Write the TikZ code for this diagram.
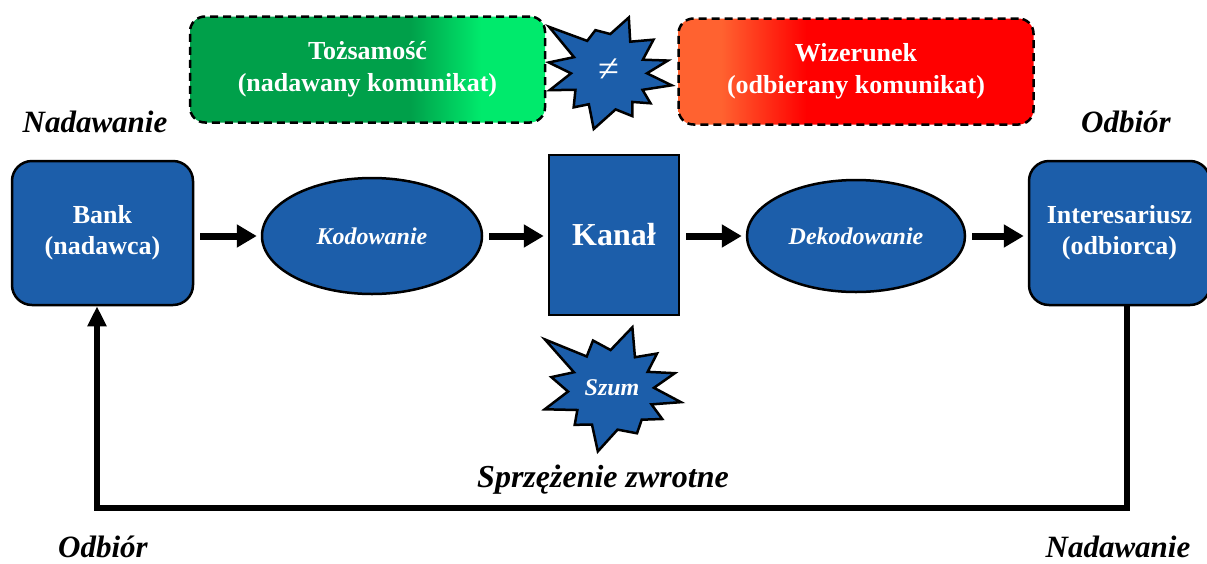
\documentclass[tikz,border=0pt]{standalone}
\usepackage{fontspec}
\setmainfont{Liberation Serif}
\usetikzlibrary{shapes.geometric,arrows.meta,calc}

\definecolor{boxblue}{RGB}{28,94,170}
\definecolor{gdark}{RGB}{0,160,74}
\definecolor{glight}{RGB}{0,234,108}
\definecolor{rorange}{RGB}{255,98,48}
\definecolor{rred}{RGB}{255,0,0}

% left-to-right fills of the two message boxes (box spans 25bp..75bp)
\pgfdeclarehorizontalshading{greenfill}{100bp}{color(0bp)=(gdark); color(25bp)=(gdark); color(56bp)=(gdark); color(66bp)=(glight); color(100bp)=(glight)}
\pgfdeclarehorizontalshading{redfill}{100bp}{color(0bp)=(rorange); color(31bp)=(rorange); color(43bp)=(rred); color(100bp)=(rred)}

\tikzset{
  bluebox/.style={draw=black, line width=2.5pt, fill=boxblue, rounded corners=20pt,
    text=white, align=center, inner sep=0pt,
    font=\fontsize{26}{31}\selectfont\bfseries,
    minimum width=181pt, minimum height=144pt},
  oval/.style={ellipse, draw=black, line width=2.5pt, fill=boxblue, text=white,
    inner sep=0pt, font=\fontsize{24}{28}\selectfont\bfseries\itshape},
  msgbox/.style={draw=black, dash pattern=on 8pt off 5pt, line width=2.5pt,
    rounded corners=15pt, text=white, align=center, inner sep=0pt,
    font=\fontsize{26}{32}\selectfont\bfseries,
    minimum width=355pt, minimum height=106pt},
  sidelabel/.style={inner sep=0pt, font=\fontsize{31}{34}\selectfont\bfseries\itshape},
  burst/.style={draw=black, line width=2.5pt, fill=boxblue, line join=miter},
  flow/.style={line width=7pt, -{Triangle[length=20pt,width=22pt]},
    shorten <=6pt, shorten >=4pt},
  feedback/.style={line width=6pt, -{Triangle[length=20pt,width=18pt]}},
}

\begin{document}
\begin{tikzpicture}[x=1pt,y=-1pt]
\useasboundingbox (0,0) rectangle (1207,563);

% message boxes
\node[msgbox, shading=greenfill] (tozs) at (367.5,69.5) {Tożsamość\\(nadawany komunikat)};
\node[msgbox, shading=redfill] (wiz) at (856,71.5) {Wizerunek\\(odbierany komunikat)};

% "not equal" burst
\begin{scope}[shift={(609,72)}]
\draw[burst] (-70:58) -- (-55:37) -- (-36:55) -- (-20:36) -- (-11:60) -- (2:38)
  -- (12:64) -- (28:38) -- (37:52) -- (52:38) -- (62:50) -- (80:38)
  -- (105:59) -- (122:38) -- (135:50) -- (152:38) -- (163:62) -- (178:38)
  -- (189:61) -- (203:38) -- (217:75) -- (235:38) -- (252:44) -- (272:38) -- cycle;
\end{scope}
\node[text=white, font=\fontsize{38}{38}\selectfont] (neq) at (609,70) {≠};

% side labels
\node[sidelabel] (nadL) at (95,122) {Nadawanie};
\node[sidelabel] (odbR) at (1126,122) {Odbiór};
\node[sidelabel, anchor=base] (odbL) at (103,557) {Odbiór};
\node[sidelabel, anchor=base] (nadR) at (1118,557) {Nadawanie};

% main chain
\node[bluebox] (bank) at (102.5,233) {Bank\\(nadawca)};
\node[oval, minimum width=220pt, minimum height=116pt] (kod) at (372,236) {Kodowanie};
\node[draw=black, line width=2.5pt, fill=boxblue, text=white,
  minimum width=130pt, minimum height=160pt,
  font=\fontsize{32}{36}\selectfont\bfseries] (kanal) at (614,235) {Kanał};
\node[oval, minimum width=218pt, minimum height=112pt] (dek) at (856,236) {Dekodowanie};
\node[bluebox] (inter) at (1119.5,233) {Interesariusz\\(odbiorca)};

\draw[flow] (bank.east |- kod.center) -- (kod.west);
\draw[flow] (kod.east) -- (kanal.west |- kod.center);
\draw[flow] (kanal.east |- dek.center) -- (dek.west);
\draw[flow] (dek.east) -- (inter.west |- dek.center);

% noise burst
\begin{scope}[shift={(612,390)}]
\draw[burst] (-72:66) -- (-55:40) -- (-39:58) -- (-27:40) -- (-15:65) -- (-3:42)
  -- (10:70) -- (20:42) -- (30:58) -- (45:42) -- (60:50) -- (82:40)
  -- (103:63) -- (120:40) -- (137:51) -- (150:40) -- (164:70) -- (178:44)
  -- (192:62) -- (205:42) -- (217:84) -- (233:42) -- (249:53) -- (268:40) -- cycle;
\end{scope}
\node[text=white, font=\fontsize{24}{26}\selectfont\bfseries\itshape] (szum) at (612,388) {Szum};

% feedback loop
\draw[feedback] ([xshift=7pt]inter.south) -- ++(0,202) -| ([xshift=-5.5pt]bank.south);
\node[font=\fontsize{32}{36}\selectfont\bfseries\itshape] (sprz) at (603,480) {Sprzężenie zwrotne};

\end{tikzpicture}
\end{document}
